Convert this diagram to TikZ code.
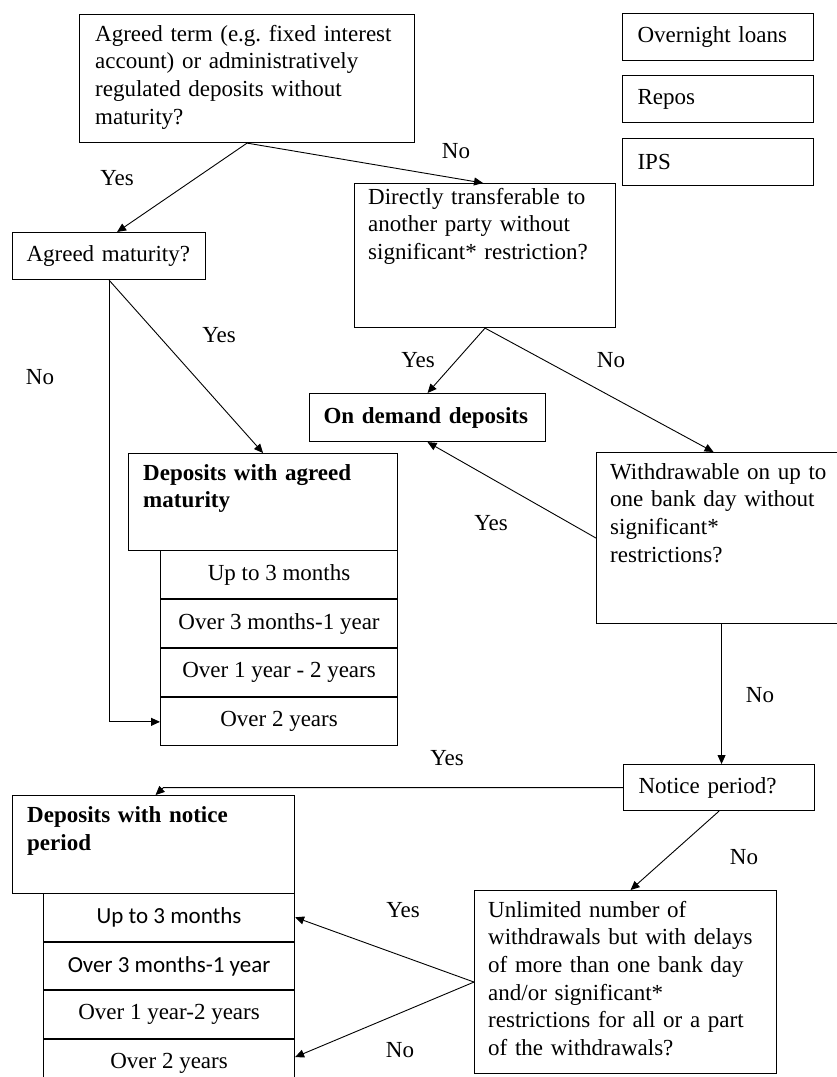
\documentclass[tikz,border=0pt]{standalone}
\usepackage{fontspec}
\setmainfont{Liberation Serif}
\newfontfamily\calibri{Carlito}
\usetikzlibrary{arrows.meta}
\frenchspacing

\tikzstyle{frame}=[draw, line width=1.1pt, anchor=north west, inner sep=0pt]
\tikzstyle{small}=[frame, align=left, inner xsep=15pt, minimum height=47pt]
\tikzstyle{row}=[frame, align=center]
\tikzstyle{txt}=[anchor=base west, inner sep=0pt, align=left]
\tikzstyle{lbl}=[inner sep=0pt]
\tikzstyle{con}=[line width=0.9pt, -{Triangle[length=9pt,width=8pt]}]

\begin{document}
\begin{tikzpicture}[x=1pt, y=-1pt, font=\fontsize{23}{27.7}\selectfont]
	\useasboundingbox (0,0) rectangle (837,1077);
	\node[frame, minimum width=335pt, minimum height=128pt] (term) at (79,14) {};
	\node[txt, text width=310pt] (term-t) at ([shift={(16,27)}]term.north west)
		{Agreed term (e.g. fixed interest\\ account) or administratively\\ regulated deposits without\\ maturity?};
	\node[frame, minimum width=261pt, minimum height=144pt] (dt) at (354,183) {};
	\node[txt, text width=240pt] (dt-t) at ([shift={(14,21)}]dt.north west)
		{Directly transferable to\\ another party without\\ significant* restriction?};
	\node[frame, minimum width=250pt, minimum height=171pt] (wd) at (596,452) {};
	\node[txt, text width=225pt] (wd-t) at ([shift={(14,27)}]wd.north west)
		{Withdrawable on up to\\ one bank day without\\ significant*\\ restrictions?};
	\node[frame, minimum width=302pt, minimum height=183pt] (ul) at (474,890) {};
	\node[txt, text width=285pt] (ul-t) at ([shift={(14,27)}]ul.north west)
		{Unlimited number of\\ withdrawals but with delays\\ of more than one bank day\\ and/or significant*\\ restrictions for all or a part\\ of the withdrawals?};
%
	\node[small, text width=161pt] (ol) at (622,13) {Overnight loans};
	\node[small, text width=161pt] (repos) at (622,75) {Repos};
	\node[small, text width=161pt] (ips) at (622,138) {IPS};
	\node[small, text width=165pt, inner xsep=14pt] (am) at (12,232) {Agreed maturity?};
	\node[small, text width=208pt, inner xsep=14pt, minimum height=48pt] (od) at (309,393) {\textbf{On demand deposits}};
	\node[small, text width=161pt, minimum height=46pt] (np) at (623,764) {Notice period?};
%
	\node[frame, minimum width=269pt, minimum height=97pt] (dam) at (128,453) {};
	\node[txt, text width=245pt] (dam-t) at ([shift={(15,27)}]dam.north west)
		{\textbf{Deposits with agreed}\\ \textbf{maturity}};
	\node[row, minimum width=237pt, minimum height=48pt] (da1) at (160,550) {Up to 3 months};
	\node[row, minimum width=237pt, minimum height=48pt] (da2) at (da1.south west) {Over 3 months-1 year};
	\node[row, minimum width=237pt, minimum height=48pt] (da3) at (da2.south west) {Over 1 year - 2 years};
	\node[row, minimum width=237pt, minimum height=48pt] (da4) at (da3.south west) {Over 2 years};
%
	\node[frame, minimum width=282pt, minimum height=98pt] (dn) at (12,795) {};
	\node[txt, text width=260pt] (dn-t) at ([shift={(15,27.5)}]dn.north west)
		{\textbf{Deposits with notice}\\ \textbf{period}};
	\node[row, minimum width=251pt, minimum height=47.5pt] (dn1) at (43,893) {\calibri Up to 3 months};
	\node[row, minimum width=251pt, minimum height=47.5pt] (dn2) at (dn1.south west) {\calibri Over 3 months-1 year};
	\node[row, minimum width=251pt, minimum height=47.5pt] (dn3) at (dn2.south west) {Over 1 year-2 years};
	\node[row, minimum width=251pt, minimum height=47.5pt] (dn4) at (dn3.south west) {Over 2 years};
%
	\draw[con] (term.south) -- ([xshift=8pt]am.north);
	\draw[con] (term.south) -- ([xshift=-2pt]dt.north);
	\draw[con] (am.south) -- (dam.north);
	\draw[con] (am.south) -- (am.south |- da4.west) -- (da4.west);
	\draw[con] (dt.south) -- (od.north);
	\draw[con] (dt.south) -- ([xshift=-8pt]wd.north);
	\draw[con] (wd.west) -- (od.south);
	\draw[con] (wd.south) -- (wd.south |- np.north);
	\draw[con] (np.west) -- ([xshift=10pt]dn.north |- np.west) -- ([xshift=2pt]dn.north);
	\draw[con] (np.south) -- ([xshift=5pt]ul.north);
	\draw[con] (ul.west) -- (dn1.east);
	\draw[con] (ul.west) -- ([yshift=6pt]dn4.east);
%
	\node[lbl] (l-yes1) at (117,178) {Yes};
	\node[lbl] (l-no1) at (456,151) {No};
	\node[lbl] (l-yes2) at (219,335) {Yes};
	\node[lbl] (l-no2) at (40,377) {No};
	\node[lbl] (l-yes3) at (418,360) {Yes};
	\node[lbl] (l-no3) at (611,360) {No};
	\node[lbl] (l-yes4) at (491,523) {Yes};
	\node[lbl] (l-no4) at (760,695) {No};
	\node[lbl] (l-yes5) at (447,758) {Yes};
	\node[lbl] (l-no5) at (744,857) {No};
	\node[lbl] (l-yes6) at (403,910) {Yes};
	\node[lbl] (l-no6) at (400,1050) {No};
\end{tikzpicture}
\end{document}
